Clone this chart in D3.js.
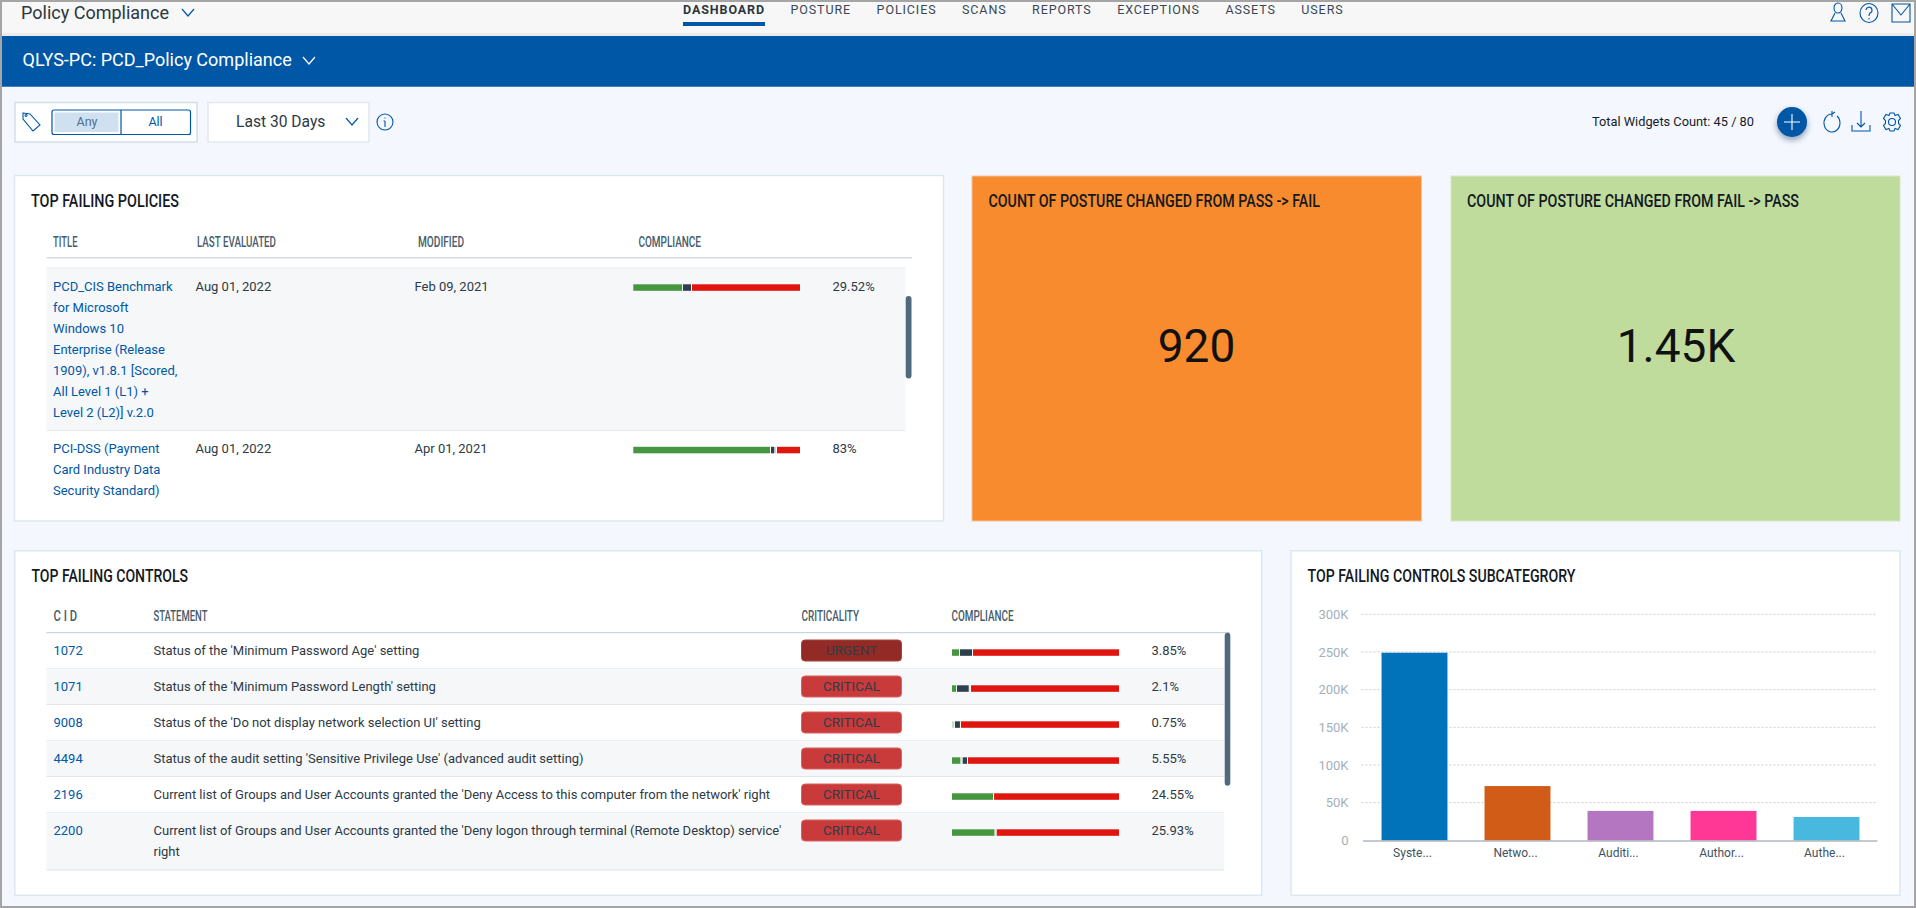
<!DOCTYPE html>
<html>
<head>
<meta charset="utf-8">
<title>Policy Compliance</title>
<script src="https://cdn.jsdelivr.net/npm/d3@7"></script>
<style>
  html, body { margin: 0; padding: 0; background: #f4f8fe; overflow: hidden; }
  svg { display: block; font-family: Roboto, sans-serif; }
</style>
</head>
<body>
<svg id="page" width="1916" height="908"></svg>
<script>
// Data
var navItems = ["DASHBOARD", "POSTURE", "POLICIES", "SCANS", "REPORTS", "EXCEPTIONS", "ASSETS", "USERS"]

var segmentKeys = ["pass", "paleA", "error", "paleB", "fail"]
var segmentColors = ["#46963f", "#a9c9a6", "#2e3f4d", "#e0a9a6", "#e0150f"]

var policyTitles = [
    ["PCD_CIS Benchmark", "for Microsoft", "Windows 10", "Enterprise (Release", "1909), v1.8.1 [Scored,", "All Level 1 (L1) +", "Level 2 (L2)] v.2.0"],
    ["PCI-DSS (Payment", "Card Industry Data", "Security Standard)"]
]
var policyEvaluated = ["Aug 01, 2022", "Aug 01, 2022"]
var policyModified = ["Feb 09, 2021", "Apr 01, 2021"]
var policyPercent = ["29.52%", "83%"]
var policySegments = [
    {pass: 29.8, paleA: 0, error: 5.4, paleB: 0, fail: 64.8},
    {pass: 82.6, paleA: 0, error: 2.6, paleB: 1, fail: 13.8}
]

var controlIds = ["1072", "1071", "9008", "4494", "2196", "2200"]
var controlStatements = [
    ["Status of the 'Minimum Password Age' setting"],
    ["Status of the 'Minimum Password Length' setting"],
    ["Status of the 'Do not display network selection UI' setting"],
    ["Status of the audit setting 'Sensitive Privilege Use' (advanced audit setting)"],
    ["Current list of Groups and User Accounts granted the 'Deny Access to this computer from the network' right"],
    ["Current list of Groups and User Accounts granted the 'Deny logon through terminal (Remote Desktop) service'", "right"]
]
var controlCriticality = ["URGENT", "CRITICAL", "CRITICAL", "CRITICAL", "CRITICAL", "CRITICAL"]
var controlPercent = ["3.85%", "2.1%", "0.75%", "5.55%", "24.55%", "25.93%"]
var controlSegments = [
    {pass: 4.8, paleA: 0, error: 7.8, paleB: 0, fail: 87.4},
    {pass: 3, paleA: 0, error: 7.6, paleB: 0.8, fail: 88.6},
    {pass: 0.75, paleA: 1, error: 3.6, paleB: 0, fail: 94.65},
    {pass: 5.6, paleA: 0.8, error: 3.2, paleB: 0, fail: 90.4},
    {pass: 25.2, paleA: 0, error: 0, paleB: 0, fail: 74.8},
    {pass: 26, paleA: 0, error: 0, paleB: 0.8, fail: 73.2}
]

var subcategoryLabels = ["Syste...", "Netwo...", "Auditi...", "Author...", "Authe..."]
var subcategoryValues = [249000, 72000, 39000, 39000, 31000]
var subcategoryColors = ["#0073bb", "#d05c17", "#b576c1", "#ff3896", "#48b8de"]
var subcategoryTicks = [0, 50000, 100000, 150000, 200000, 250000, 300000]

var blue = "#0057a6"
var ink = "#2e3a45"
var svg = d3.select("#page")

function label(parent, str, x, y, size, color) {
    return parent.append("text")
        .attr("x", x).attr("y", y).attr("dy", "0.35em")
        .attr("font-size", size).attr("fill", color)
        .text(str)
}

// Stands in for the condensed headline font of the original
function narrow(parent, str, x, y, size, color, width) {
    return label(parent, str, x, y, size, color)
        .attr("font-weight", 500)
        .attr("textLength", width)
        .attr("lengthAdjust", "spacingAndGlyphs")
}

function box(parent, x, y, w, h, fill, stroke) {
    return parent.append("rect")
        .attr("x", x).attr("y", y).attr("width", w).attr("height", h)
        .attr("fill", fill).attr("stroke", stroke || "none")
}

function chevron(parent, x, y, color) {
    parent.append("path")
        .attr("d", d3.line()([[x - 6, y - 3], [x, y + 4], [x + 6, y - 3]]))
        .attr("fill", "none").attr("stroke", color).attr("stroke-width", 1.2)
}

function icon(x, y, d) {
    svg.append("path")
        .attr("transform", "translate(" + x + "," + y + ")")
        .attr("d", d)
        .attr("fill", "none").attr("stroke", blue).attr("stroke-width", 1.1)
}

function drawHeader() {
    box(svg, 0, 0, 1916, 35, "#f7f7f7")
    box(svg, 0, 33, 1916, 3, "#ececec")
    box(svg, 0, 36, 1916, 51, blue)
    box(svg, 0, 86, 1916, 1, "#3f7fbd")

    label(svg, "Policy Compliance", 21, 13, 18, "#2b3640")
    chevron(svg, 188, 12, blue)
    label(svg, "QLYS-PC: PCD_Policy Compliance", 22.5, 60, 18, "#ffffff")
    chevron(svg, 309, 60, "#ffffff")

    var x = 683
    navItems.forEach(function(item, i) {
        var t = label(svg, item, x, 9.5, 12.5, i == 0 ? "#2b3640" : "#3a4752")
            .attr("letter-spacing", 0.9)
            .attr("font-weight", i == 0 ? 700 : 400)
        var w = t.node().getComputedTextLength()
        if (i == 0) box(svg, x, 22, w, 4, blue)
        x += w + 25.5
    })

    icon(1838, 13, "M-4,-5a4,5 0 1,1 8,0a4,5 0 1,1 -8,0M-3,0L-7,8H7L3,0")
    icon(1869, 13, "M-9,0a9,9.5 0 1,1 18,0a9,9.5 0 1,1 -18,0M-3,-3a3,3 0 1,1 4,3q-1,1 -1,3M0,5v1.5")
    icon(1901, 13, "M-9,-9H9V9H-9ZM-9,-9L0,2L9,-9")
}

function drawToolbar() {
    box(svg, 15, 102.5, 182, 39.5, "#ffffff", "#d3dee8").attr("stroke-width", 1.5)
    icon(31, 122, "M-8,-9L-1,-8L9,3L2,9L-8,-3ZM-5,-5.5a1,1 0 1,1 .1,0")
    box(svg, 52, 110, 138.5, 24.5, "#ffffff", blue).attr("rx", 2).attr("stroke-width", 1.2)
    box(svg, 54.5, 112.5, 64, 19.5, "#cfe0f0")
    svg.append("line").attr("x1", 121).attr("x2", 121).attr("y1", 110).attr("y2", 134.5)
        .attr("stroke", blue).attr("stroke-width", 1.2)
    label(svg, "Any", 87, 122, 12.5, "#4b6f94").attr("text-anchor", "middle")
    label(svg, "All", 155.5, 122, 12.5, blue).attr("text-anchor", "middle")

    box(svg, 208, 102.5, 161, 39.5, "#ffffff", "#e1e8ef").attr("stroke-width", 1.5)
    label(svg, "Last 30 Days", 236, 122, 15.6, ink)
    chevron(svg, 352, 121, blue)
    icon(385, 122, "M-8,0a8,8 0 1,1 16,0a8,8 0 1,1 -16,0M0,-1V5M-1.5,-1H0M0,-4.5v1")

    label(svg, "Total Widgets Count: 45 / 80", 1592, 122, 12.8, "#15202a")
    svg.append("circle").attr("cx", 1792).attr("cy", 122).attr("r", 15).attr("fill", blue)
        .style("filter", "drop-shadow(0 3px 3px rgba(0,40,90,0.45))")
    svg.append("path").attr("d", "M1784,122H1800M1792,114V130").attr("stroke", "#ffffff").attr("stroke-width", 1.1)
    icon(1831, 122, "M1,-8a8,9 0 1,0 5,2M1,-11L1,-5M1,-8l3,-2")
    icon(1861, 122, "M-9,3V9H9V3M0,-11V5M-4,1L0,5L4,1")
    icon(1892, 122, "M-3.5,0a3.5,3.5 0 1,1 7,0a3.5,3.5 0 1,1 -7,0M-2,-9H2L3,-6.5L6,-7.5L8.5,-3.5L6.5,-1.5V1.5L8.5,3.5L6,7.5L3,6.5L2,9H-2L-3,6.5L-6,7.5L-8.5,3.5L-6.5,1.5V-1.5L-8.5,-3.5L-6,-7.5L-3,-6.5Z")
}

function panel(x, y, w, h, fill, border) {
    return box(svg, x, y, w, h, fill, border).attr("stroke-width", 1.5)
}

// One stacked compliance bar per table row
function drawSegments(row, x0, width, y) {
    var scale = d3.scaleLinear().domain([0, 100]).range([x0, x0 + width])
    var series = d3.stack().keys(segmentKeys)([row])
    var lastKey = segmentKeys[segmentKeys.length - 1]
    svg.append("g").selectAll("rect")
        .data(series.filter(function(s) { return s[0][1] > s[0][0] }))
        .join("rect")
        .attr("x", function(s) { return scale(s[0][0]) })
        .attr("y", y)
        .attr("height", 6.5)
        .attr("width", function(s) {
            var gap = s.key == lastKey ? 0 : 1
            return Math.max(scale(s[0][1]) - scale(s[0][0]) - gap, 0.3)
        })
        .attr("fill", function(s) { return segmentColors[s.index] })
}

function drawPolicies() {
    panel(14.5, 175.5, 929, 345.5, "#ffffff", "#dde7f0")
    narrow(svg, "TOP FAILING POLICIES", 31, 201, 18.5, "#14191f", 148)

    var headerColor = "#465c6c"
    narrow(svg, "TITLE", 53, 242, 15, headerColor, 24.5)
    narrow(svg, "LAST EVALUATED", 197, 242, 15, headerColor, 79)
    narrow(svg, "MODIFIED", 418, 242, 15, headerColor, 46)
    narrow(svg, "COMPLIANCE", 638.5, 242, 15, headerColor, 62.5)
    box(svg, 46.5, 257, 865.5, 1.5, "#d5dee5")

    box(svg, 46.5, 268, 859, 162, "#f5f7f9")
    box(svg, 46.5, 267.5, 859, 1, "#e6ebef")
    box(svg, 46.5, 430, 859, 1, "#e6ebef")

    var rowTops = [286, 448.5]
    policyTitles.forEach(function(lines, i) {
        lines.forEach(function(line, k) {
            label(svg, line, 53, rowTops[i] + k * 21, 13, blue)
        })
        label(svg, policyEvaluated[i], 195.5, rowTops[i], 13, ink)
        label(svg, policyModified[i], 414.5, rowTops[i], 13, ink)
        label(svg, policyPercent[i], 832.5, rowTops[i], 13, ink)
        drawSegments(policySegments[i], 633.3, 166.7, rowTops[i] - 1.7)
    })
    box(svg, 905.7, 296, 5.8, 82.5, "#4f6a7c").attr("rx", 3)
}

function drawCards() {
    panel(972, 176, 449.5, 345, "#f78b2d", "#f2c49b").attr("stroke-width", 1)
    narrow(svg, "COUNT OF POSTURE CHANGED FROM PASS -> FAIL", 988.5, 201, 18.5, "#14191f", 331.5)
    label(svg, "920", 1196.5, 346, 46, "#111111").attr("text-anchor", "middle")

    panel(1451, 176, 449, 345, "#bfdc9d", "#d5e6c4").attr("stroke-width", 1)
    narrow(svg, "COUNT OF POSTURE CHANGED FROM FAIL -> PASS", 1467, 201, 18.5, "#14191f", 332)
    label(svg, "1.45K", 1676, 346, 46, "#111111").attr("text-anchor", "middle")
}

function drawControls() {
    panel(14.8, 550.8, 1247, 344.5, "#ffffff", "#dde7f0")
    narrow(svg, "TOP FAILING CONTROLS", 31.5, 575.5, 18.5, "#14191f", 156.5)

    var headerColor = "#465c6c"
    narrow(svg, "C I D", 53.5, 616, 15, headerColor, 23.5)
    narrow(svg, "STATEMENT", 153.5, 616, 15, headerColor, 54)
    narrow(svg, "CRITICALITY", 801.5, 616, 15, headerColor, 57.5)
    narrow(svg, "COMPLIANCE", 951.5, 616, 15, headerColor, 62)
    box(svg, 46.5, 632, 1183.5, 1.2, "#c9d4dc")

    var rowY = 632.5
    controlIds.forEach(function(id, i) {
        var rowH = controlStatements[i].length > 1 ? 57.5 : 36
        if (i % 2 == 1) box(svg, 46.5, rowY, 1177.8, rowH, "#f5f7f9")
        box(svg, 46.5, rowY + rowH - 0.5, 1177.8, 1, "#e1e6ea")

        var textY = rowY + 18
        label(svg, id, 53.5, textY, 13, blue)
        controlStatements[i].forEach(function(line, k) {
            label(svg, line, 153.5, textY + k * 21, 13, ink)
        })
        var urgent = controlCriticality[i] == "URGENT"
        box(svg, 801.5, textY - 10.5, 100, 21, urgent ? "#922b25" : "#c93a3a", urgent ? "#a5423c" : "#d9625f")
            .attr("rx", 3.5)
        label(svg, controlCriticality[i], 851.5, textY, 13.5, "#2f3d48")
            .attr("text-anchor", "middle")
        drawSegments(controlSegments[i], 952, 167, textY - 1.2)
        label(svg, controlPercent[i], 1151.5, textY, 13, ink)
        rowY += rowH
    })
    box(svg, 1224.7, 632.7, 5.6, 153, "#4f6a7c").attr("rx", 3)
}

function drawSubcategories() {
    panel(1291, 550.8, 609, 344.5, "#ffffff", "#dde7f0")
    narrow(svg, "TOP FAILING CONTROLS SUBCATEGRORY", 1307.5, 575.5, 18.5, "#14191f", 268)

    var x = d3.scaleBand().domain(subcategoryLabels).range([1363, 1878]).paddingInner(0.36).paddingOuter(0.18)
    var y = d3.scaleLinear().domain([0, 300000]).range([840.3, 614.3])

    var formatTick = function(v) { return v == 0 ? "0" : (v / 1000) + "K" }

    var yAxis = svg.append("g")
        .attr("transform", "translate(1348.5,0)")
        .call(d3.axisLeft(y).tickValues(subcategoryTicks).tickFormat(formatTick).tickSize(0))
    yAxis.select(".domain").remove()
    yAxis.selectAll("text").attr("x", 0).attr("fill", "#a3b1bb").attr("font-size", 13)
        .attr("font-family", "Roboto, sans-serif")

    svg.append("g").selectAll("line")
        .data(subcategoryTicks.filter(function(v) { return v > 0 }))
        .join("line")
        .attr("x1", 1361.5).attr("x2", 1876.5)
        .attr("y1", function(v) { return y(v) }).attr("y2", function(v) { return y(v) })
        .attr("stroke", "#c4ced6").attr("stroke-dasharray", "2,2")

    svg.append("g").selectAll("rect")
        .data(subcategoryValues)
        .join("rect")
        .attr("x", function(v, i) { return x(subcategoryLabels[i]) })
        .attr("y", function(v) { return y(v) })
        .attr("width", x.bandwidth())
        .attr("height", function(v) { return y(0) - y(v) })
        .attr("fill", function(v, i) { return subcategoryColors[i] })

    var xAxis = svg.append("g")
        .attr("transform", "translate(0,840.5)")
        .call(d3.axisBottom(x).tickSize(0))
    xAxis.select(".domain").attr("stroke", "#8a949c").attr("d", "M1363,0.5H1877.5")
    xAxis.selectAll("text").attr("x", -2).attr("y", 8).attr("dy", "0.71em").attr("fill", "#3e5263").attr("font-size", 12)
        .attr("font-family", "Roboto, sans-serif")
}

function drawFrame() {
    svg.append("rect").attr("x", 1).attr("y", 1).attr("width", 1914).attr("height", 906)
        .attr("fill", "none").attr("stroke", "#a5a5a5").attr("stroke-width", 2)
}

drawHeader()
drawToolbar()
drawPolicies()
drawCards()
drawControls()
drawSubcategories()
drawFrame()
</script>
</body>
</html>
